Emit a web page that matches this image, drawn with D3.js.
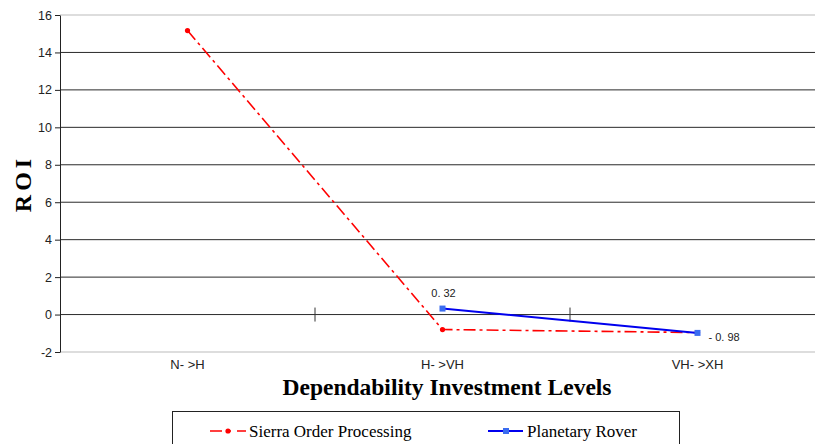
<!DOCTYPE html>
<html>
<head>
<meta charset="utf-8">
<script src="https://cdn.jsdelivr.net/npm/d3@7"></script>
<style>
  body { margin: 0; background: #fff; }
  svg { display: block; }
</style>
</head>
<body>
<svg id="chart" width="815" height="444"></svg>
<script>
var categories = ['N- >H', 'H- >VH', 'VH- >XH'];
var sierraValues = [15.17, -0.8, -0.96];
var roverValues = [null, 0.32, -0.98];
var yTicks = [-2, 0, 2, 4, 6, 8, 10, 12, 14, 16];

var svg = d3.select('#chart');
var plotLeft = 60, plotRight = 825, plotTop = 15, plotBottom = 352;

var x = d3.scaleBand().domain(categories).range([plotLeft, plotRight]);
var y = d3.scaleLinear().domain([-2, 16]).range([plotBottom, plotTop]);

// gridlines
svg.append('g').selectAll('line').data(yTicks).enter().append('line')
    .attr('x1', plotLeft).attr('x2', 815)
    .attr('y1', function(d) { return y(d); }).attr('y2', function(d) { return y(d); })
    .attr('stroke', function(d) { return (d == 16 || d == -2) ? '#bbb' : '#2a2a2a'; })
    .attr('stroke-width', 1);

// y axis (plain hyphen for negatives, like the original)
var yAxis = svg.append('g').attr('transform', 'translate(' + plotLeft + ',0)')
    .call(d3.axisLeft(y).tickValues(yTicks).tickSize(5).tickSizeOuter(0)
        .tickFormat(function(d) { return String(d); }));
yAxis.select('.domain').attr('stroke', '#222');
yAxis.selectAll('.tick line').attr('stroke', '#222');
yAxis.selectAll('text').attr('font-family', 'Liberation Sans, Arial, sans-serif')
    .attr('font-size', 12.5).attr('fill', '#222').attr('dx', 0);

// category ticks on the zero line
var between = categories.slice(1).map(function(c) { return x(c); });
svg.append('g').selectAll('line').data(between).enter().append('line')
    .attr('x1', function(d) { return d; }).attr('x2', function(d) { return d; })
    .attr('y1', y(0) - 7).attr('y2', y(0) + 7)
    .attr('stroke', '#333');

// category labels
svg.append('g').selectAll('text').data(categories).enter().append('text')
    .attr('x', function(d) { return x(d) + x.bandwidth() / 2; })
    .attr('y', 369)
    .attr('text-anchor', 'middle')
    .attr('font-family', 'Liberation Sans, Arial, sans-serif')
    .attr('font-size', 13).attr('fill', '#222')
    .text(function(d) { return d; });

var cx = function(i) { return x(categories[i]) + x.bandwidth() / 2; };

// Sierra Order Processing
var sierra = sierraValues.map(function(v, i) { return [cx(i), y(v)]; });
svg.append('path').attr('d', d3.line()(sierra))
    .attr('fill', 'none').attr('stroke', '#f00').attr('stroke-width', 1.6)
    .attr('stroke-dasharray', '12,4,3,4');
svg.append('g').selectAll('circle').data(sierra).enter().append('circle')
    .attr('cx', function(d) { return d[0]; }).attr('cy', function(d) { return d[1]; })
    .attr('r', 2.6).attr('fill', '#f00');

// Planetary Rover
var rover = [];
roverValues.forEach(function(v, i) { if (v !== null) rover.push([cx(i), y(v), v]); });
svg.append('path').attr('d', d3.line()(rover))
    .attr('fill', 'none').attr('stroke', '#0000ee').attr('stroke-width', 2);
svg.append('g').selectAll('rect').data(rover).enter().append('rect')
    .attr('x', function(d) { return d[0] - 3; }).attr('y', function(d) { return d[1] - 3; })
    .attr('width', 6).attr('height', 6).attr('fill', '#3a6cf0');

// data labels
svg.append('text').attr('x', rover[0][0] + 1).attr('y', rover[0][1] - 12)
    .attr('text-anchor', 'middle')
    .attr('font-family', 'Liberation Sans, Arial, sans-serif').attr('font-size', 11).attr('fill', '#222')
    .text('0. 32');
svg.append('text').attr('x', rover[1][0] + 11).attr('y', rover[1][1] + 8)
    .attr('font-family', 'Liberation Sans, Arial, sans-serif').attr('font-size', 11).attr('fill', '#222')
    .text('- 0. 98');

// axis titles
svg.append('text')
    .attr('transform', 'translate(31,' + ((plotTop + plotBottom) / 2) + ') rotate(-90)')
    .attr('text-anchor', 'middle')
    .attr('font-family', 'Liberation Serif, Times New Roman, serif')
    .attr('font-weight', 'bold').attr('font-size', 24).attr('letter-spacing', 4)
    .text('ROI');
svg.append('text')
    .attr('x', 447).attr('y', 395)
    .attr('text-anchor', 'middle')
    .attr('font-family', 'Liberation Serif, Times New Roman, serif')
    .attr('font-weight', 'bold').attr('font-size', 23.5)
    .text('Dependability Investment Levels');

// legend
var legend = svg.append('g');
legend.append('rect').attr('x', 172.5).attr('y', 411.5).attr('width', 507).attr('height', 40)
    .attr('fill', '#fff').attr('stroke', '#222');
legend.append('line').attr('x1', 210).attr('x2', 246).attr('y1', 431).attr('y2', 431)
    .attr('stroke', '#f00').attr('stroke-width', 1.6).attr('stroke-dasharray', '12,6,3,6');
legend.append('circle').attr('cx', 228).attr('cy', 431).attr('r', 2.6).attr('fill', '#f00');
legend.append('text').attr('x', 249).attr('y', 437)
    .attr('font-family', 'Liberation Serif, Times New Roman, serif').attr('font-size', 17)
    .text('Sierra Order Processing');
legend.append('line').attr('x1', 488).attr('x2', 523).attr('y1', 431).attr('y2', 431)
    .attr('stroke', '#0000ee').attr('stroke-width', 2);
legend.append('rect').attr('x', 503).attr('y', 428).attr('width', 6).attr('height', 6).attr('fill', '#3a6cf0');
legend.append('text').attr('x', 527).attr('y', 437)
    .attr('font-family', 'Liberation Serif, Times New Roman, serif').attr('font-size', 17)
    .text('Planetary Rover');
</script>
</body>
</html>
